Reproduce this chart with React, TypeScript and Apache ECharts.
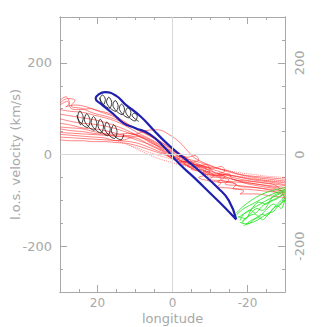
import React, { useEffect, useRef } from "react";
import * as echarts from "echarts";

const xMajorTicks = [20, 0, -20];
const xMinorTicks = [25, 20, 15, 10, 5, 0, -5, -10, -15, -20, -25];
const yMajorTicks = [200, 0, -200];
const yMinorTicks = [250, 200, 150, 100, 50, 0, -50, -100, -150, -200, -250];

const red1 = [[30,118],[28.5,126],[27.5,112],[28.5,104],[26,108],[23,104],[20,96],[17,90],[14,78],[11,62],[8,50],[5,38],[2,22],[-1,8],[-4,-6],[-6,-2],[-7,-12],[-5,-18],[-8,-24],[-11,-30],[-13,-26],[-14,-36],[-12,-42],[-16,-46],[-20,-52],[-24,-56],[-30,-62]];
const red2 = [[30,108],[28,116],[27,100],[25,98],[22,100],[19,92],[16,84],[13,70],[10,58],[7,46],[4,30],[1,12],[-2,0],[-4,-12],[-3,-20],[-6,-22],[-9,-32],[-8,-40],[-11,-44],[-14,-48],[-13,-56],[-17,-60],[-22,-64],[-26,-70],[-30,-76]];
const red3 = [[30,98],[27,94],[24,92],[21,86],[18,80],[15,72],[12,60],[9,46],[6,34],[3,20],[0,4],[-3,-10],[-6,-24],[-5,-32],[-8,-36],[-11,-46],[-10,-54],[-14,-58],[-17,-66],[-16,-74],[-20,-76],[-25,-80],[-30,-84]];
const red4 = [[30,88],[27,84],[24,80],[21,76],[18,70],[15,62],[12,52],[9,40],[6,30],[3,14],[0,-2],[-3,-18],[-5,-30],[-8,-34],[-10,-44],[-13,-52],[-12,-60],[-16,-62],[-18,-70],[-22,-72],[-26,-78],[-30,-90]];
const red5 = [[30,78],[27,72],[24,68],[21,66],[18,62],[15,56],[12,48],[9,40],[6,28],[3,12],[0,-6],[-3,-4],[-4,-14],[-2,-18],[-6,-26],[-9,-22],[-10,-34],[-8,-40],[-12,-46],[-15,-42],[-16,-54],[-20,-58],[-24,-62],[-28,-70],[-30,-98]];
const red6 = [[30,68],[27,64],[24,58],[21,56],[18,52],[15,46],[12,40],[9,34],[6,20],[3,8],[0,-10],[-3,-20],[-6,-34],[-9,-44],[-7,-50],[-10,-58],[-13,-62],[-12,-70],[-16,-74],[-19,-80],[-18,-86],[-22,-86],[-26,-90],[-30,-94]];
const red7 = [[30,56],[27,52],[24,50],[21,46],[18,44],[15,40],[12,38],[9,30],[6,22],[3,10],[0,-2],[-3,-12],[-6,-18],[-9,-28],[-12,-36],[-15,-44],[-18,-50],[-22,-56],[-26,-60],[-30,-66]];
const red8 = [[30,44],[27,42],[24,40],[21,38],[18,36],[15,30],[12,34],[10,40],[8,36],[6,26],[3,16],[0,2],[-3,-8],[-6,-14],[-9,-22],[-12,-30],[-15,-36],[-18,-44],[-22,-50],[-26,-54],[-30,-58]];
const red9 = [[30,32],[27,30],[24,30],[21,28],[18,28],[15,26],[12,24],[9,18],[6,10],[3,2],[0,-8],[-3,-16],[-6,-26],[-9,-36],[-12,-46],[-15,-52],[-18,-58],[-22,-64],[-26,-68],[-30,-72]];
const red10 = [[30,48],[26,46],[22,44],[18,42],[14,40],[10,44],[7,52],[4,54],[1,44],[-2,26],[-4,8],[-6,-8],[-9,-20],[-12,-30],[-16,-40],[-20,-46],[-25,-50],[-30,-54]];
const red11 = [[30,112],[28,122],[26,118],[27,106],[24,100],[21,90],[18,84],[15,76],[12,66],[9,52],[6,40],[3,26],[0,10],[-3,-6],[-5,-16],[-4,-26],[-7,-28],[-10,-38],[-9,-48],[-12,-50],[-15,-56],[-14,-64],[-18,-68],[-22,-72],[-26,-76],[-30,-80]];
const red12 = [[30,38],[26,36],[22,34],[18,32],[14,30],[10,26],[7,18],[4,8],[1,-2],[-2,-12],[-5,-20],[-8,-28],[-11,-38],[-14,-48],[-17,-56],[-20,-64],[-24,-70],[-28,-76],[-30,-84]];
const red13 = [[30,60],[27,58],[24,56],[21,50],[18,46],[15,44],[12,46],[9,42],[6,32],[3,18],[0,6],[-2,-4],[-1,-14],[-4,-16],[-7,-26],[-10,-30],[-11,-40],[-14,-44],[-17,-52],[-21,-58],[-25,-62],[-30,-68]];
const redDot1 = [[15,30],[10,16],[6,4],[2,-6],[-2,-14],[-6,-22],[-10,-28],[-14,-34],[-18,-40],[-22,-44],[-26,-48],[-30,-50]];
const redDot2 = [[12,22],[8,6],[4,-8],[0,-18],[-4,-26],[-8,-34],[-12,-40],[-16,-46],[-20,-50],[-25,-56],[-30,-60]];

const blackUpper = [[19.5,124],[18.5,108],[17.9,120],[18.7,130],[19.3,122],[16.8,101],[16.2,113],[17,125],[17.6,115],[15.1,94],[14.5,106],[15.3,118],[15.9,108],[13.4,87],[12.8,99],[13.6,110],[14.2,101],[11.7,80],[11.1,92],[11.9,102],[12.5,94],[10,73],[9.4,84],[10.2,90],[10.8,86],[9,72]];
const blackLower = [[25.5,86],[24.5,65],[23.8,80],[24.7,95],[25.3,82],[22.7,59],[22,74],[22.9,89],[23.5,76],[20.9,53],[20.2,68],[21.1,83],[21.7,70],[19.1,47],[18.4,62],[19.3,77],[19.9,64],[17.3,41],[16.6,56],[17.5,71],[18.1,58],[15.5,35],[14.8,50],[15.7,65],[16.3,52],[13.7,32],[13,44]];

const blueLoop = [[-17,-142],[-14,-116],[-10,-84],[-6,-52],[-2,-22],[2,14],[6,44],[10,58],[13,68],[16,90],[19,110],[20.5,122],[19.7,131],[18,136],[15,128],[12.5,109],[8.5,83],[5,53],[2,28],[-1,6],[-4,-14],[-8,-42],[-12,-72],[-15,-100],[-17,-142]];

const green0 = [[-17,-128],[-19,-112],[-21,-100],[-24,-86],[-27,-78],[-30,-72]];
const green1 = [[-17,-132],[-19,-118],[-22,-105],[-25,-92],[-28,-82],[-30,-76]];
const green2 = [[-17.5,-138],[-20,-124],[-23,-110],[-26,-96],[-29,-84],[-30,-80]];
const green3 = [[-18,-144],[-19,-130],[-21,-122],[-22,-128],[-24,-112],[-27,-98],[-30,-86]];
const green4 = [[-18.5,-150],[-20,-136],[-22,-130],[-23,-136],[-25,-120],[-27,-108],[-28,-114],[-30,-94]];
const green5 = [[-19,-156],[-21,-144],[-23,-138],[-24,-142],[-26,-126],[-28,-112],[-29,-118],[-30,-98]];
const green6 = [[-18,-148],[-20,-152],[-22,-140],[-24,-130],[-25,-134],[-27,-116],[-29,-100],[-30,-90]];
const green7 = [[-17.5,-135],[-19.5,-140],[-21,-120],[-23,-104],[-25,-108],[-27,-90],[-30,-78]];
const green8 = [[-18.5,-146],[-20.5,-132],[-22.5,-118],[-24,-122],[-26,-104],[-28,-96],[-30,-82]];
const green9 = [[-19.5,-152],[-22,-146],[-24,-136],[-25.5,-128],[-27,-124],[-28.5,-108],[-30,-102]];

const redSolid = [red1, red2, red3, red4, red5, red6, red7, red8, red9, red10, red11, red12, red13];
const redDotted = [redDot1, redDot2];
const greens = [green0, green1, green2, green3, green4, green5, green6, green7, green8, green9];

const AX = "#a8a8a8";
const FONT = "DejaVu Sans";

function xAx(position: string, ticks: number[], len: number, labels: boolean, extra: any = {}) {
  return {
    type: "value", position, min: -30, max: 30, inverse: true, interval: 5,
    axisLine: { show: true, onZero: false, lineStyle: { color: AX, width: 1 } },
    axisTick: { show: true, inside: true, length: len, customValues: ticks, lineStyle: { color: AX } },
    axisLabel: labels
      ? { show: true, customValues: xMajorTicks, color: AX, fontSize: 12, fontFamily: FONT, margin: 5 }
      : { show: false },
    splitLine: { show: false },
    ...extra,
  };
}
function yAx(position: string, ticks: number[], len: number, labels: boolean, extra: any = {}) {
  return {
    type: "value", position, min: -300, max: 300, interval: 50,
    axisLine: { show: true, onZero: false, lineStyle: { color: AX, width: 1 } },
    axisTick: { show: true, inside: true, length: len, customValues: ticks, lineStyle: { color: AX } },
    axisLabel: labels
      ? { show: true, customValues: yMajorTicks, color: AX, fontSize: 13, fontFamily: FONT, margin: 8,
          rotate: position === "right" ? 90 : 0 }
      : { show: false },
    splitLine: { show: false },
    ...extra,
  };
}

export default function App() {
  const ref = useRef<HTMLDivElement>(null);
  useEffect(() => {
    const chart = echarts.init(ref.current!, null, { renderer: "svg" });
    const series: any[] = [];
    series.push({
      type: "line", data: [], xAxisIndex: 0, yAxisIndex: 0, silent: true,
      markLine: {
        silent: true, symbol: "none", label: { show: false },
        lineStyle: { color: "#d8d8d8", width: 1, type: "solid" },
        data: [{ xAxis: 0 }, { yAxis: 0 }],
      },
    });
    redSolid.forEach((d) =>
      series.push({ type: "line", data: d, smooth: 0.4, showSymbol: false, silent: true,
        lineStyle: { color: "#ff1a1a", width: 0.9, opacity: 0.6 } }));
    redDotted.forEach((d) =>
      series.push({ type: "line", data: d, smooth: 0.4, showSymbol: false, silent: true,
        lineStyle: { color: "#ff3030", width: 1, opacity: 0.55, type: "dotted" } }));
    [blackUpper, blackLower].forEach((d) =>
      series.push({ type: "line", data: d, smooth: 0.35, showSymbol: false, silent: true,
        lineStyle: { color: "#1a1a1a", width: 1, opacity: 0.85 } }));
    series.push({ type: "line", data: blueLoop, smooth: 0.5, showSymbol: false, silent: true,
      lineStyle: { color: "#1f1fb0", width: 2.2 } });
    greens.forEach((d) =>
      series.push({ type: "line", data: d, smooth: 0.3, showSymbol: false, silent: true,
        lineStyle: { color: "#22e622", width: 1, opacity: 0.85 } }));

    chart.setOption({
      animation: false,
      grid: { left: 60, right: 42, top: 17, bottom: 35, containLabel: false, outerBoundsMode: "none" },
      xAxis: [
        xAx("bottom", xMinorTicks, 3, true, {
          name: "longitude", nameLocation: "middle", nameGap: 20, nameMoveOverlap: false,
          nameTextStyle: { color: AX, fontSize: 13, fontFamily: FONT, lineHeight: 13 },
        }),
        xAx("bottom", xMajorTicks, 7, false),
        xAx("top", xMinorTicks, 3, false),
        xAx("top", xMajorTicks, 7, false),
      ],
      yAxis: [
        yAx("left", yMinorTicks, 3, true, {
          name: "l.o.s. velocity (km/s)", nameLocation: "middle", nameGap: 38, nameMoveOverlap: false,
          nameTextStyle: { color: AX, fontSize: 13, fontFamily: FONT },
        }),
        yAx("left", yMajorTicks, 7, false),
        yAx("right", yMinorTicks, 3, true),
        yAx("right", yMajorTicks, 7, false),
      ],
      series,
    });
    return () => chart.dispose();
  }, []);
  return <div ref={ref} style={{ width: 327, height: 327, position: "absolute", left: 0, top: 0 }} />;
}
